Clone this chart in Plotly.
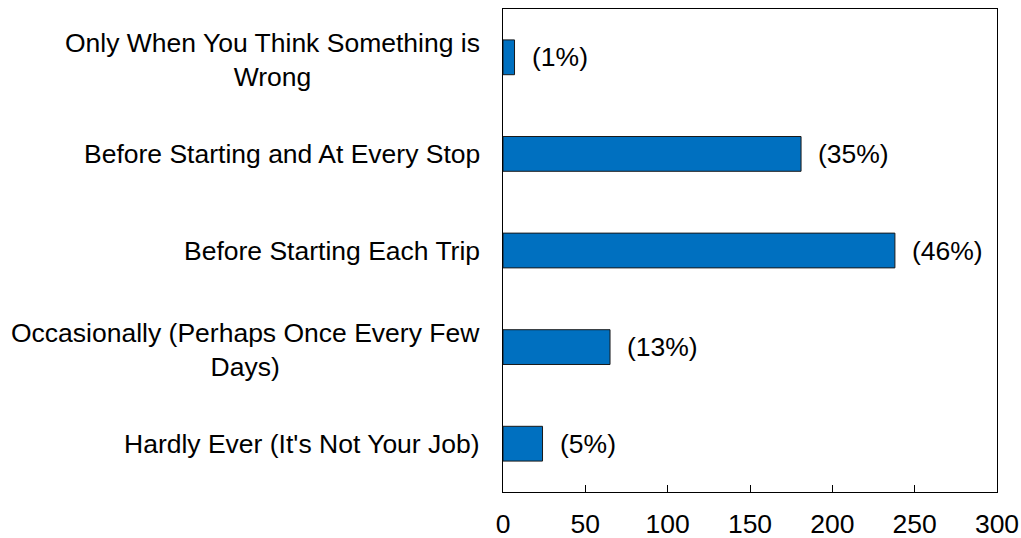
import plotly.graph_objects as go

# survey answers, top to bottom as drawn
categories = [
    "Only When You Think Something is<br>Wrong",
    "Before Starting and At Every Stop",
    "Before Starting Each Trip",
    "Occasionally (Perhaps Once Every Few<br>Days)",
    "Hardly Ever (It's Not Your Job)",
]
counts = [7, 181, 238, 65, 24]
pct_labels = ["(1%)", "(35%)", "(46%)", "(13%)", "(5%)"]
x_ticks = [0, 50, 100, 150, 200, 250, 300]

FONT = "Liberation Sans, Arial, sans-serif"
FS = 26.5

fig = go.Figure(go.Bar(
    x=counts,
    y=categories,
    orientation="h",
    width=0.36,
    marker=dict(color="#0070C0", line=dict(color="#1a1a1a", width=1)),
    hoverinfo="x+y",
))

annotations = []
# category labels, centered lines, right edge a bit left of the axis
for cat in categories:
    annotations.append(dict(
        x=0, xref="paper", y=cat, yref="y",
        text=cat, showarrow=False,
        xanchor="right", yanchor="middle", align="center",
        xshift=-21,
        yshift=-3 if "<br>" in cat else 0,  # wrapped labels sit a touch low
        font=dict(family=FONT, size=FS, color="black"),
    ))
# percentage labels at the bar ends
for cat, v, p in zip(categories, counts, pct_labels):
    annotations.append(dict(
        x=v, xref="x", y=cat, yref="y",
        text=p, showarrow=False,
        xanchor="left", yanchor="middle",
        xshift=15,
        font=dict(family=FONT, size=FS, color="black"),
    ))

fig.update_layout(
    width=1021, height=538,
    margin=dict(l=503, r=24, t=9, b=46),
    paper_bgcolor="white", plot_bgcolor="white",
    font=dict(family=FONT, size=FS, color="black"),
    showlegend=False,
    annotations=annotations,
    xaxis=dict(
        range=[0, 300], tickvals=x_ticks,
        showgrid=False, zeroline=False, automargin=False,
        showline=True, linecolor="black", linewidth=1, mirror=True,
        ticks="inside", ticklen=7, tickcolor="black", tickwidth=1,
        ticklabelstandoff=8,
        tickfont=dict(family=FONT, size=FS, color="black"),
        fixedrange=True,
    ),
    yaxis=dict(
        categoryorder="array", categoryarray=categories,
        autorange="reversed", automargin=False,
        showticklabels=False, showgrid=False, zeroline=False,
        showline=True, linecolor="black", linewidth=1, mirror=True,
        ticks="", fixedrange=True,
    ),
)

# page body has a default 8px margin; drop it so the figure sits at 0,0
fig.write_html(
    "out.html",
    config={"displayModeBar": False},
    post_script="document.body.style.margin='0px';",
)
